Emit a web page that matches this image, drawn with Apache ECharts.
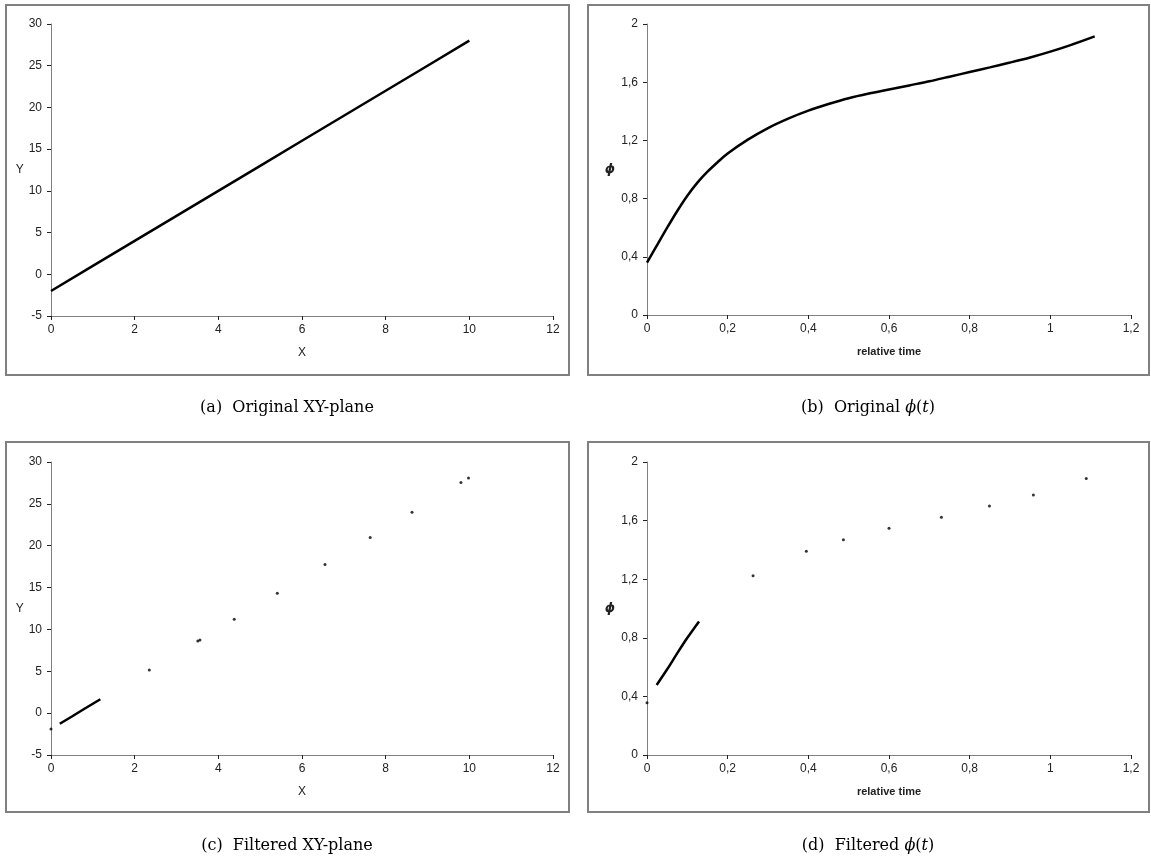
<!DOCTYPE html>
<html>
<head>
<meta charset="utf-8">
<script src="https://cdn.jsdelivr.net/npm/echarts@6/dist/echarts.min.js"></script>
<style>
  html, body { margin: 0; padding: 0; background: #fff; }
  #main { width: 1151px; height: 863px; }
</style>
</head>
<body>
<div id="main"></div>
<script>
// (a) original XY-plane
const origX = [0, 1, 2, 3, 4, 5, 6, 7, 8, 9, 10];
const origY = [-2, 1, 4, 7, 10, 13, 16, 19, 22, 25, 28];

// (b) original phi(t)
const origT   = [0, 0.025, 0.05, 0.075, 0.1, 0.125, 0.15, 0.175, 0.2, 0.25, 0.3, 0.35, 0.4, 0.45, 0.5, 0.55, 0.6, 0.65, 0.7, 0.75, 0.8, 0.85, 0.9, 0.95, 1.0, 1.05, 1.11];
const origPhi = [0.36, 0.48, 0.6, 0.715, 0.82, 0.91, 0.985, 1.05, 1.11, 1.205, 1.285, 1.35, 1.405, 1.45, 1.49, 1.522, 1.55, 1.578, 1.606, 1.638, 1.67, 1.702, 1.735, 1.77, 1.81, 1.855, 1.915];

// (c) filtered XY-plane: dense segment + remaining points
const segX = [0.21, 0.5, 0.8, 1.18];
const segY = [-1.27, -0.4, 0.52, 1.66];
const ptX = [0, 2.35, 3.51, 3.56, 4.38, 5.41, 6.55, 7.63, 8.63, 9.8, 9.98];
const ptY = [-1.9, 5.14, 8.63, 8.75, 11.23, 14.31, 17.77, 20.98, 23.99, 27.55, 28.1];

// (d) filtered phi(t)
const segT   = [0.024, 0.05, 0.074, 0.1, 0.129];
const segPhi = [0.478, 0.585, 0.69, 0.8, 0.912];
const ptT   = [0, 0.263, 0.395, 0.487, 0.6, 0.73, 0.849, 0.958, 1.089];
const ptPhi = [0.356, 1.223, 1.39, 1.47, 1.547, 1.623, 1.70, 1.774, 1.888];

const zip = (a, b) => a.map((v, i) => [v, b[i]]);
const comma = v => String(Number(v.toFixed(2))).replace('.', ',');

const chart = echarts.init(document.getElementById('main'));

const labelStyle = { color: '#222', fontFamily: 'Liberation Sans, Arial', fontSize: 12 };
const lineStyleAxis = { color: '#808080', width: 1 };

function xAxis(gi, min, max, interval, name, bold, fmt) {
  return {
    type: 'value', gridIndex: gi, min: min, max: max, interval: interval,
    name: name, nameLocation: 'middle', nameGap: 31,
    nameTextStyle: { color: '#222', fontFamily: 'Liberation Sans, Arial', fontSize: bold ? 11 : 12, fontWeight: bold ? 'bold' : 'normal' },
    axisLine: { show: true, onZero: false, lineStyle: lineStyleAxis },
    axisTick: { show: true, length: 4, lineStyle: { color: '#222' } },
    axisLabel: Object.assign({ margin: 8, formatter: fmt }, labelStyle),
    splitLine: { show: false }
  };
}
function yAxis(gi, min, max, interval, name, gap, phi, fmt) {
  return {
    type: 'value', gridIndex: gi, min: min, max: max, interval: interval,
    name: name, nameLocation: 'middle', nameRotate: 0, nameGap: gap,
    nameTextStyle: phi
      ? { color: '#222', fontFamily: 'DejaVu Sans', fontSize: 13, fontWeight: 'bold', fontStyle: 'italic' }
      : { color: '#222', fontFamily: 'Liberation Sans, Arial', fontSize: 12 },
    axisLine: { show: true, onZero: false, lineStyle: lineStyleAxis },
    axisTick: { show: true, length: 4, lineStyle: { color: '#222' } },
    axisLabel: Object.assign({ margin: 9, formatter: fmt }, labelStyle),
    splitLine: { show: false }
  };
}

const lineSeries = (xi, data, smooth) => ({
  type: 'line', xAxisIndex: xi, yAxisIndex: xi, data: data, smooth: smooth,
  showSymbol: false, lineStyle: { color: '#000', width: 2.5 }, silent: true
});
const dotSeries = (xi, data) => ({
  type: 'scatter', xAxisIndex: xi, yAxisIndex: xi, data: data,
  symbolSize: 3, itemStyle: { color: '#000' }, silent: true
});

const box = (x, y, w, h) => ({
  type: 'rect', shape: { x: x, y: y, width: w, height: h },
  style: { fill: 'none', stroke: '#808080', lineWidth: 2 }
});
const rich = {
  i: { fontFamily: 'DejaVu Serif', fontStyle: 'italic', fontSize: 16, fill: '#000' }
};
const caption = (cx, cy, text) => ({
  type: 'text', x: cx, y: cy,
  style: { text: text, rich: rich, fill: '#000', font: '16px "DejaVu Serif"', align: 'center', verticalAlign: 'middle' }
});

chart.setOption({
  animation: false,
  backgroundColor: '#fff',
  grid: [
    { left: 51, top: 24, width: 502, height: 292 },
    { left: 647, top: 24, width: 484, height: 291 },
    { left: 51, top: 462, width: 502, height: 293 },
    { left: 647, top: 462, width: 484, height: 293 }
  ],
  xAxis: [
    xAxis(0, 0, 12, 2, 'X', false),
    xAxis(1, 0, 1.2, 0.2, 'relative time', true, comma),
    xAxis(2, 0, 12, 2, 'X', false),
    xAxis(3, 0, 1.2, 0.2, 'relative time', true, comma)
  ],
  yAxis: [
    yAxis(0, -5, 30, 5, 'Y', 25, false),
    yAxis(1, 0, 2, 0.4, 'ϕ', 32, true, comma),
    yAxis(2, -5, 30, 5, 'Y', 25, false),
    yAxis(3, 0, 2, 0.4, 'ϕ', 32, true, comma)
  ],
  series: [
    lineSeries(0, zip(origX, origY), false),
    lineSeries(1, zip(origT, origPhi), 0.3),
    lineSeries(2, zip(segX, segY), false),
    dotSeries(2, zip(ptX, ptY)),
    lineSeries(3, zip(segT, segPhi), 0.3),
    dotSeries(3, zip(ptT, ptPhi))
  ],
  graphic: [
    box(6, 5, 563, 370),
    box(588, 5, 561, 370),
    box(6, 442, 563, 370),
    box(588, 442, 561, 370),
    caption(287, 408, '(a)  Original XY-plane'),
    caption(868, 408, '(b)  Original {i|ϕ}({i|t})'),
    caption(287, 846, '(c)  Filtered XY-plane'),
    caption(868, 846, '(d)  Filtered {i|ϕ}({i|t})')
  ]
});
</script>
</body>
</html>
